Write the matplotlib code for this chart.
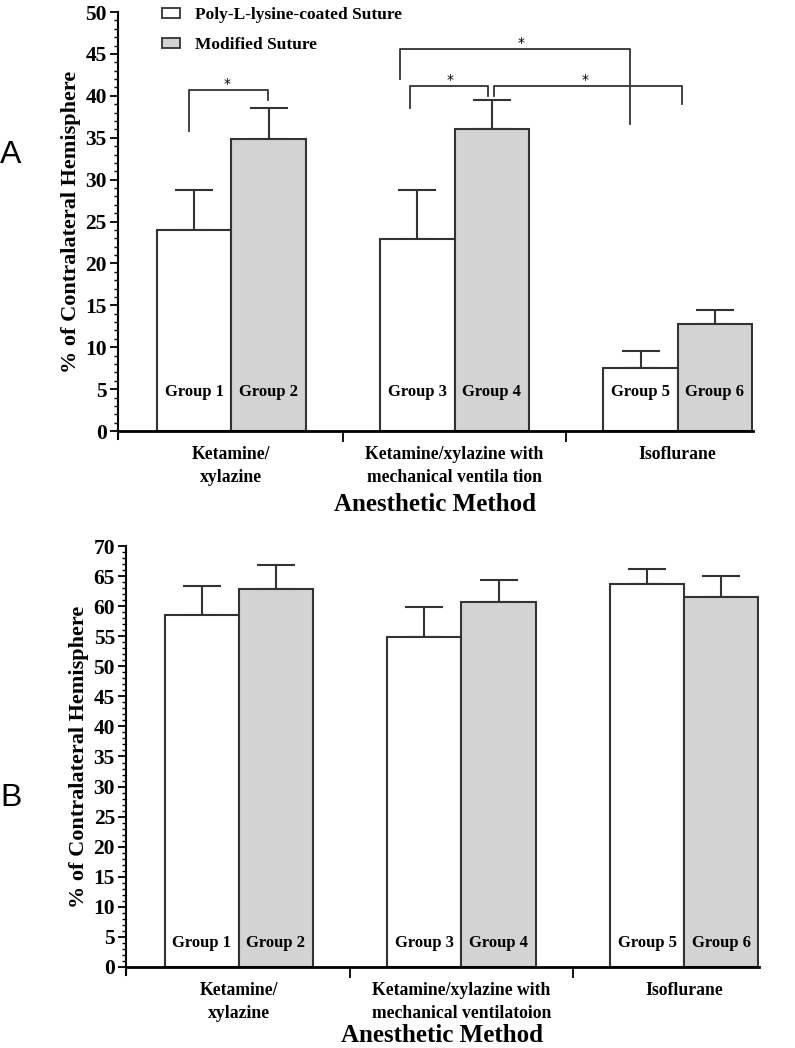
import numpy as np
import matplotlib
matplotlib.use("Agg")
import matplotlib.pyplot as plt
from matplotlib.patches import Patch
from matplotlib.ticker import MultipleLocator, FixedLocator, NullFormatter

# data
methods_a = ['Ketamine/\nxylazine', 'Ketamine/xylazine with\nmechanical ventila tion', 'Isoflurane']
methods_b = ['Ketamine/\nxylazine', 'Ketamine/xylazine with\nmechanical ventilatoion', 'Isoflurane']
groups = ['Group 1', 'Group 2', 'Group 3', 'Group 4', 'Group 5', 'Group 6']
series = ['Poly-L-lysine-coated Suture', 'Modified Suture']

# panel A (poly-L-lysine, modified) per method
a_poly = [24.0, 22.9, 7.5]
a_mod = [34.8, 36.1, 12.8]
a_poly_err = [4.8, 5.9, 2.0]
a_mod_err = [3.8, 3.4, 1.7]

# panel B
b_poly = [58.6, 54.8, 63.7]
b_mod = [62.8, 60.7, 61.6]
b_poly_err = [4.8, 5.0, 2.5]
b_mod_err = [4.1, 3.6, 3.4]

# significance brackets in panel A: (x left, x right, y top, left leg end, right leg end, star x)
brackets_a = [
    (-0.19, 0.165, 40.7, 35.8, 39.5, -0.02),
    (0.756, 1.787, 45.6, 42.0, 36.7, 1.3),
    (0.799, 1.152, 41.2, 38.6, 40.0, 0.98),
    (1.179, 2.021, 41.2, 40.0, 39.0, 1.585),
]

plt.rcParams['font.family'] = ['Liberation Serif', 'DejaVu Serif']

EDGE = '#333333'
GREY = '#d3d3d3'
W = 0.333


def draw_panel(ax, poly, mod, poly_err, mod_err, methods, ymax, group_y, xlim, xpad):
    x = np.arange(len(poly))
    ax.bar(x - W / 2, poly, W, color='white', edgecolor=EDGE, linewidth=1.5, zorder=2)
    ax.bar(x + W / 2, mod, W, color=GREY, edgecolor=EDGE, linewidth=1.5, zorder=2)
    for xs, ys, es in [(x - W / 2, poly, poly_err), (x + W / 2, mod, mod_err)]:
        ax.errorbar(xs, ys, yerr=[np.zeros(len(es)), es], fmt='none', ecolor=EDGE,
                    elinewidth=1.5, capsize=14, capthick=1.5, zorder=1)

    for i in range(len(poly)):
        ax.text(x[i] - W / 2, group_y, groups[2 * i], ha='center', va='center',
                fontsize=12, fontweight='bold')
        ax.text(x[i] + W / 2, group_y, groups[2 * i + 1], ha='center', va='center',
                fontsize=12, fontweight='bold')

    ax.set_xlim(*xlim)
    ax.set_ylim(0, ymax)
    ax.spines['top'].set_visible(False)
    ax.spines['right'].set_visible(False)
    ax.spines['left'].set_linewidth(1.5)
    ax.spines['bottom'].set_linewidth(2)
    ax.spines['left'].set_bounds(-ymax * 0.02, ymax)

    ax.yaxis.set_major_locator(MultipleLocator(5))
    ax.yaxis.set_minor_locator(MultipleLocator(1))
    ax.tick_params(axis='y', which='major', length=6, width=1.3, labelsize=15.5, pad=2)
    ax.tick_params(axis='y', which='minor', length=3, width=1)
    for lab in ax.get_yticklabels():
        lab.set_fontweight('bold')

    ax.xaxis.set_major_locator(FixedLocator([0.5, 1.5]))
    ax.xaxis.set_major_formatter(NullFormatter())
    ax.tick_params(axis='x', which='major', length=8, width=1.3)
    ax.set_xticks(x, minor=True)
    ax.set_xticklabels(methods, minor=True, fontsize=12.7, fontweight='bold', linespacing=1.45)
    ax.tick_params(axis='x', which='minor', length=0, pad=11)

    ax.set_ylabel('% of Contralateral Hemisphere', fontsize=16, fontweight='bold', labelpad=3)
    ax.set_xlabel('Anesthetic Method', fontsize=18, fontweight='bold', labelpad=xpad)


fig = plt.figure(figsize=(7.95, 10.48), dpi=100)
ax1 = fig.add_axes([0.1484, 0.5887, 0.7987, 0.3998])
ax2 = fig.add_axes([0.1585, 0.0773, 0.7962, 0.4017])

draw_panel(ax1, a_poly, a_mod, a_poly_err, a_mod_err, methods_a, 50, 4.6, (-0.508, 0.337 + 2), 5)
draw_panel(ax2, b_poly, b_mod, b_poly_err, b_mod_err, methods_b, 70, 4.0, (-0.506, 0.336 + 2), 1)

for xl, xr, yt, yl, yr, xs in brackets_a:
    ax1.plot([xl, xl, xr, xr], [yl, yt, yt, yr], color=EDGE, lw=1.3, clip_on=False, zorder=3)
    ax1.text(xs, yt + 0.75, '*', ha='center', va='center', fontsize=10, family='DejaVu Sans')

handles = [Patch(facecolor='white', edgecolor=EDGE, linewidth=1.3),
           Patch(facecolor=GREY, edgecolor=EDGE, linewidth=1.3)]
leg = ax1.legend(handles, series, loc='upper left', bbox_to_anchor=(0.045, 1.05),
                 frameon=False, handlelength=1.0, handleheight=0.5, handletextpad=0.9,
                 labelspacing=0.85, prop={'family': 'Liberation Serif', 'weight': 'bold', 'size': 12.5})

fig.text(0.0, 0.852, 'A', fontsize=23, family='Liberation Sans', va='center', ha='left')
fig.text(0.0, 0.239, 'B', fontsize=23, family='Liberation Sans', va='center', ha='left')

fig.savefig('out.png', dpi=100)
